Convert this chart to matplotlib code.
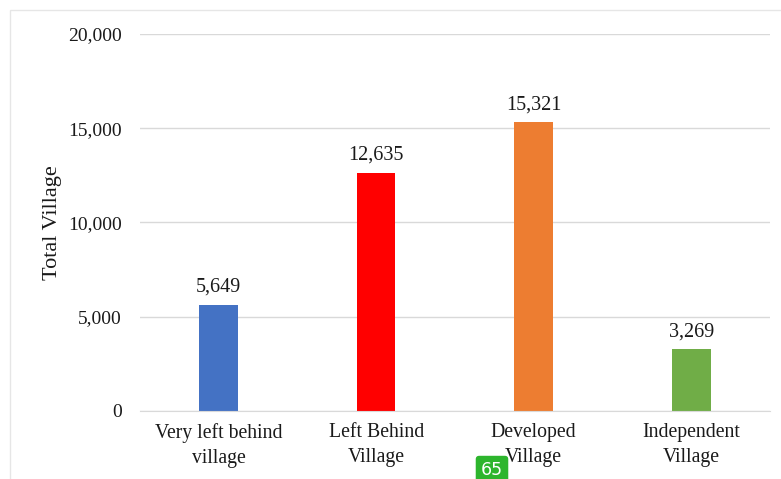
import matplotlib
matplotlib.use("Agg")
import matplotlib.pyplot as plt
from matplotlib.patches import Rectangle
from matplotlib.ticker import FuncFormatter

categories = ["Very left behind\nvillage", "Left Behind\nVillage", "Developed\nVillage", "Independent\nVillage"]
values = [5649, 12635, 15321, 3269]
colors = ["#4472C4", "#FF0000", "#ED7D31", "#70AD47"]
yticks = [0, 5000, 10000, 15000, 20000]

plt.rcParams['font.family'] = ['Liberation Serif', 'DejaVu Serif']

fig = plt.figure(figsize=(7.81, 4.79), dpi=100)
ax = fig.add_axes([0.179, 0.142, 0.807, 0.787])

x = list(range(len(categories)))
ax.bar(x, values, width=0.245, color=colors, zorder=3)
for xi, v in zip(x, values):
    ax.text(xi, v + 420, f"{v:,}", ha="center", va="bottom", fontsize=14.5, color="#1a1a1a")

ax.set_xlim(-0.5, 3.5)
ax.set_ylim(0, 20000)
ax.set_yticks(yticks)
ax.yaxis.set_major_formatter(FuncFormatter(lambda v, p: f"{int(v):,}"))
ax.set_xticks(x)
ax.set_xticklabels(categories, fontsize=14.2, color="#1a1a1a", linespacing=1.4)
ax.tick_params(axis="y", labelsize=14, labelcolor="#1a1a1a", length=0, pad=13)
ax.tick_params(axis="x", length=0, pad=9)
ax.grid(axis="y", color="#d9d9d9", linewidth=1, zorder=0)
for s in ["top", "right", "left"]:
    ax.spines[s].set_visible(False)
ax.spines["bottom"].set_color("#d9d9d9")
ax.spines["bottom"].set_zorder(4)
ax.set_ylabel("Total Village", fontsize=16, color="#1a1a1a", labelpad=4)

# faint page frame
fig.patches.append(Rectangle((10/781, -0.01), 1.02, 1 - 10/479 + 0.01, transform=fig.transFigure,
                             fill=False, edgecolor="#e6e6e6", linewidth=1))
# page-number badge
fig.text(492/781, 1 - 470/479, "65", ha="center", va="center", fontsize=12.5, color="white",
         family=["DejaVu Sans"],
         bbox=dict(boxstyle="round,pad=0.3,rounding_size=0.2", fc="#2DB52D", ec="none"))

fig.savefig("out.png", dpi=100)
